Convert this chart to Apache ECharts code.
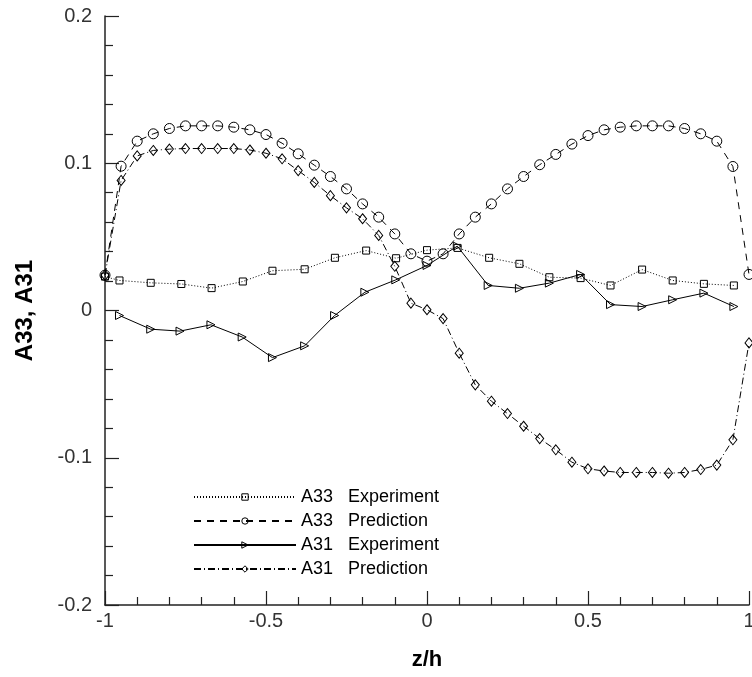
<!DOCTYPE html>
<html>
<head>
<meta charset="utf-8">
<script src="https://cdn.jsdelivr.net/npm/echarts@6/dist/echarts.min.js"></script>
<style>
  html, body { margin: 0; padding: 0; background: #fff; }
  #chart { width: 752px; height: 677px; }
</style>
</head>
<body>
<div id="chart"></div>
<script>
// Stress-anisotropy profiles across the channel height z/h

// A33 measured: [z/h, value]
const a33Experiment = [
  [-1.0, 0.023], [-0.955, 0.0204], [-0.858, 0.0188], [-0.763, 0.018], [-0.669, 0.0152],
  [-0.572, 0.0197], [-0.48, 0.027], [-0.38, 0.028], [-0.286, 0.0358], [-0.189, 0.0407],
  [-0.096, 0.0355], [0.0, 0.041], [0.095, 0.0425], [0.193, 0.0358], [0.287, 0.0317],
  [0.38, 0.0226], [0.477, 0.022], [0.57, 0.017], [0.668, 0.0278], [0.763, 0.0204],
  [0.86, 0.0181], [0.953, 0.017]
];

// A33 model: [z/h, value]
const a33Prediction = [
  [-1.0, 0.024], [-0.95, 0.098], [-0.9, 0.115], [-0.85, 0.120], [-0.8, 0.1236],
  [-0.75, 0.1254], [-0.7, 0.1254], [-0.65, 0.1254], [-0.6, 0.1245], [-0.55, 0.1227],
  [-0.5, 0.1195], [-0.45, 0.1136], [-0.4, 0.1064], [-0.35, 0.0987], [-0.3, 0.091],
  [-0.25, 0.0826], [-0.2, 0.0724], [-0.15, 0.0634], [-0.1, 0.052], [-0.05, 0.0385],
  [0.0, 0.0335], [0.05, 0.0385], [0.1, 0.052], [0.15, 0.0634], [0.2, 0.0724],
  [0.25, 0.0826], [0.3, 0.091], [0.35, 0.099], [0.4, 0.106], [0.45, 0.113],
  [0.5, 0.1188], [0.55, 0.1227], [0.6, 0.1245], [0.65, 0.1254], [0.7, 0.1254],
  [0.75, 0.1254], [0.8, 0.1236], [0.85, 0.120], [0.9, 0.115], [0.95, 0.0978],
  [1.0, 0.0245]
];

// A31 measured: [z/h, value]
const a31Experiment = [
  [-0.955, -0.0034], [-0.858, -0.0127], [-0.767, -0.014], [-0.671, -0.0097], [-0.574, -0.018],
  [-0.48, -0.032], [-0.38, -0.024], [-0.287, -0.0034], [-0.193, 0.0124], [-0.097, 0.0208],
  [0.0, 0.0306], [0.094, 0.0437], [0.19, 0.017], [0.287, 0.0151], [0.38, 0.0186],
  [0.477, 0.0245], [0.57, 0.004], [0.668, 0.0027], [0.763, 0.0073], [0.86, 0.0118],
  [0.953, 0.0027]
];

// A31 model: [z/h, value]
const a31Prediction = [
  [-1.0, 0.024], [-0.95, 0.0883], [-0.9, 0.105], [-0.85, 0.1087], [-0.8, 0.1096],
  [-0.75, 0.110], [-0.7, 0.110], [-0.65, 0.110], [-0.6, 0.110], [-0.55, 0.109],
  [-0.5, 0.1068], [-0.45, 0.103], [-0.4, 0.095], [-0.35, 0.087], [-0.3, 0.078],
  [-0.25, 0.0697], [-0.2, 0.0623], [-0.15, 0.051], [-0.1, 0.030], [-0.05, 0.005],
  [0.0, 0.0005], [0.05, -0.0055], [0.1, -0.029], [0.15, -0.0505], [0.2, -0.0616],
  [0.25, -0.070], [0.3, -0.0786], [0.35, -0.087], [0.4, -0.0946], [0.45, -0.103],
  [0.5, -0.1075], [0.55, -0.109], [0.6, -0.110], [0.65, -0.110], [0.7, -0.110],
  [0.75, -0.1105], [0.8, -0.110], [0.85, -0.108], [0.9, -0.105], [0.95, -0.0878],
  [1.0, -0.022]
];

const seriesNames = ['A33 Experiment', 'A33 Prediction', 'A31 Experiment', 'A31 Prediction'];
const xTickLabels = { '-1': '-1', '-0.5': '-0.5', '0': '0', '0.5': '0.5', '1': '1' };
const yTickLabels = { '-0.2': '-0.2', '-0.1': '-0.1', '0': '0', '0.1': '0.1', '0.2': '0.2' };

const FONT = '"Liberation Sans", Arial, sans-serif';
const INK = '#000';
const hollow = 'rgba(255,255,255,0)';

function curve(name, data, symbol, size, dash, rotate) {
  return {
    name: name,
    type: 'line',
    data: data,
    symbol: symbol,
    symbolSize: size,
    symbolRotate: rotate || 0,
    showSymbol: true,
    clip: false,
    lineStyle: { color: INK, width: 1, type: dash },
    itemStyle: { color: hollow, borderColor: INK, borderWidth: 1 },
    emphasis: { disabled: true },
    z: 3
  };
}

const chart = echarts.init(document.getElementById('chart'), null, { renderer: 'canvas' });

chart.setOption({
  animation: false,
  backgroundColor: '#fff',
  grid: { left: 105, right: 3, top: 16, bottom: 72, containLabel: false, outerBoundsMode: 'none' },
  xAxis: {
    type: 'value',
    min: -1, max: 1, interval: 0.5,
    name: 'z/h',
    nameLocation: 'middle',
    nameGap: 44,
    nameTextStyle: { fontFamily: FONT, fontSize: 22, fontWeight: 'bold', color: '#000' },
    axisLine: { onZero: false, lineStyle: { color: '#222', width: 1.5 } },
    axisTick: { inside: true, length: 14, lineStyle: { color: '#222', width: 1.2 } },
    minorTick: { show: true, splitNumber: 5, length: 8, lineStyle: { color: '#222', width: 1.2 } },
    splitLine: { show: false },
    axisLabel: {
      margin: 6, fontFamily: FONT, fontSize: 20, color: '#333', hideOverlap: false,
      formatter: v => xTickLabels[String(v)] !== undefined ? xTickLabels[String(v)] : String(v)
    }
  },
  yAxis: {
    type: 'value',
    min: -0.2, max: 0.2, interval: 0.1,
    name: 'A33, A31',
    nameLocation: 'middle',
    nameGap: 68,
    nameRotate: 90,
    nameTextStyle: { fontFamily: FONT, fontSize: 24, fontWeight: 'bold', color: '#000' },
    axisLine: { onZero: false, lineStyle: { color: '#222', width: 1.5 } },
    axisTick: { inside: true, length: 14, lineStyle: { color: '#222', width: 1.2 } },
    minorTick: { show: true, splitNumber: 5, length: 8, lineStyle: { color: '#222', width: 1.2 } },
    splitLine: { show: false },
    axisLabel: {
      margin: 13, fontFamily: FONT, fontSize: 20, color: '#333',
      formatter: v => {
        const k = String(Math.round(v * 10) / 10);
        return yTickLabels[k] !== undefined ? yTickLabels[k] : k;
      }
    }
  },
  legend: {
    orient: 'vertical',
    left: 188, top: 483,
    itemWidth: 102, itemHeight: 8, itemGap: 6,
    data: seriesNames,
    selectedMode: false,
    itemStyle: { color: hollow, borderColor: INK, borderWidth: 1 },
    formatter: name => {
      const parts = name.split(' ');
      return '{a|' + parts[0] + '}{b|' + parts[1] + '}';
    },
    textStyle: {
      fontFamily: FONT, fontSize: 18, color: '#000',
      rich: {
        a: { width: 47, fontFamily: FONT, fontSize: 18, color: '#000' },
        b: { fontFamily: FONT, fontSize: 18, color: '#000' }
      }
    }
  },
  series: [
    curve(seriesNames[0], a33Experiment, 'rect', 7, [1, 2]),
    curve(seriesNames[1], a33Prediction, 'circle', 10, [7, 6]),
    curve(seriesNames[2], a31Experiment, 'triangle', 8, 'solid', -90),
    curve(seriesNames[3], a31Prediction, 'diamond', [8, 10], [7, 3, 1, 3])
  ]
});
</script>
</body>
</html>
